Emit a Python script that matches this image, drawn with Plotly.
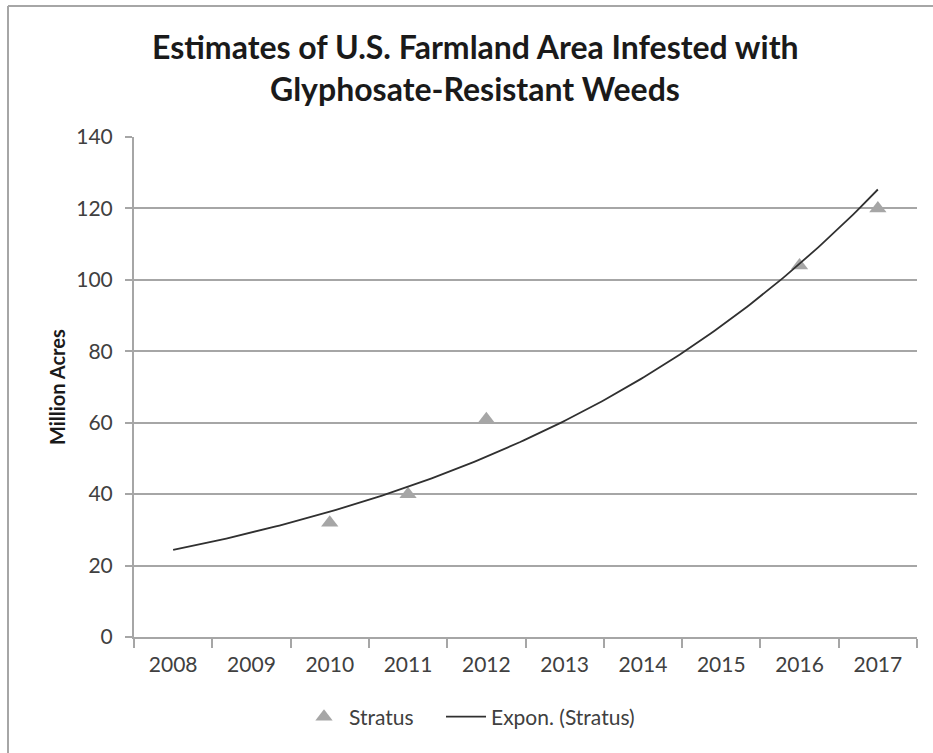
import numpy as np
import plotly.graph_objects as go

# Category axis (years) and observed acreage for the Stratus estimates
years = ["2008", "2009", "2010", "2011", "2012", "2013", "2014", "2015", "2016", "2017"]
stratus_years = ["2010", "2011", "2012", "2016", "2017"]
stratus_acres = [32, 40, 61, 104, 120]
y_ticks = [0, 20, 40, 60, 80, 100, 120, 140]

FONT = "Lato"
TICK_COLOR = "#404040"
GRID_COLOR = "#a6a6a6"

# Positions on the category axis
xpos = {y: i for i, y in enumerate(years)}
sx = np.array([xpos[y] for y in stratus_years], dtype=float)
sy = np.array(stratus_acres, dtype=float)

# Exponential trendline: least squares on ln(y)
b, a = np.polyfit(sx, np.log(sy), 1)
tx = np.linspace(0, len(years) - 1, 200)
ty = np.exp(a + b * tx)

fig = go.Figure()
fig.add_trace(go.Scatter(
    x=sx, y=sy, mode="markers", name="Stratus", legend="legend",
    marker=dict(symbol="triangle-up", size=15, color="#a6a6a6"),
))
fig.add_trace(go.Scatter(
    x=tx, y=ty, mode="lines", name="Expon. (Stratus)", legend="legend2",
    line=dict(color="#303030", width=1.8),
))

W, H = 933, 753
ml, mr, mt, mb = 134, 16, 137, 116
pw, ph = W - ml - mr, H - mt - mb

def px_x(x):
    return (x - ml) / pw

def px_y(y):
    return (H - mb - y) / ph

legend_common = dict(
    orientation="h", yanchor="middle", xanchor="left",
    font=dict(size=21, color=TICK_COLOR), itemwidth=40,
    bgcolor="rgba(0,0,0,0)",
)

fig.update_layout(
    width=W, height=H,
    margin=dict(l=ml, r=mr, t=mt, b=mb),
    paper_bgcolor="white", plot_bgcolor="white",
    font=dict(family=FONT, size=21, color=TICK_COLOR),
    showlegend=True,
    legend=dict(x=px_x(299), y=px_y(717), **legend_common),
    legend2=dict(x=px_x(441), y=px_y(717), **legend_common),
    xaxis=dict(
        range=[-0.5, len(years) - 0.5],
        tickvals=list(range(len(years))), ticktext=years,
        ticks="", showgrid=False, zeroline=False,
        showline=True, linecolor=GRID_COLOR, linewidth=2,
        tickfont=dict(size=21, color=TICK_COLOR),
        ticklabelstandoff=8,
        minor=dict(
            tickvals=[i - 0.5 for i in range(len(years) + 1)],
            ticks="outside", ticklen=9, tickcolor=GRID_COLOR, tickwidth=2, showgrid=False,
        ),
    ),
    yaxis=dict(
        range=[0, 140], tickvals=y_ticks,
        ticks="outside", ticklen=7, tickcolor=GRID_COLOR, tickwidth=2,
        showgrid=True, gridcolor=GRID_COLOR, gridwidth=2,
        zeroline=False, showline=True, linecolor=GRID_COLOR, linewidth=2,
        tickfont=dict(size=21, color=TICK_COLOR),
        ticklabelstandoff=8,
    ),
    annotations=[
        dict(text="<b>Estimates of U.S. Farmland Area Infested with</b>",
             xref="paper", yref="paper", x=px_x(475), y=px_y(46),
             xanchor="center", yanchor="middle", showarrow=False,
             font=dict(family=FONT, size=32, color="#1a1a1a")),
        dict(text="<b>Glyphosate-Resistant Weeds</b>",
             xref="paper", yref="paper", x=px_x(475), y=px_y(89),
             xanchor="center", yanchor="middle", showarrow=False,
             font=dict(family=FONT, size=32, color="#1a1a1a")),
        dict(text="<b>Million Acres</b>",
             xref="paper", yref="paper", x=px_x(57), y=px_y(387),
             xanchor="center", yanchor="middle", showarrow=False, textangle=-90,
             font=dict(family=FONT, size=20, color="#1a1a1a")),
    ],
    shapes=[
        dict(type="line", xref="paper", yref="paper",
             x0=px_x(8), x1=px_x(W + 20), y0=px_y(6), y1=px_y(6),
             line=dict(color="#a6a6a6", width=2)),
        dict(type="line", xref="paper", yref="paper",
             x0=px_x(8), x1=px_x(8), y0=px_y(6), y1=px_y(H + 20),
             line=dict(color="#a6a6a6", width=2)),
    ],
)

fig.write_html("out.html")
